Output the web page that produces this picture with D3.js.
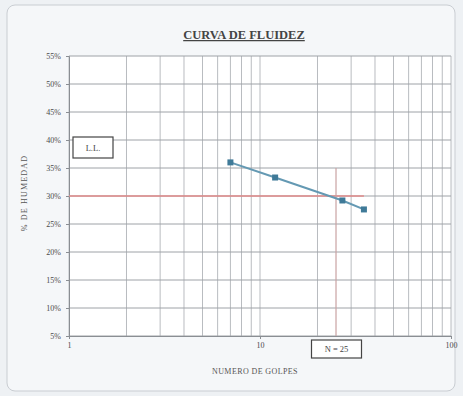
<!DOCTYPE html>
<html>
<head>
<meta charset="utf-8">
<script src="https://cdn.jsdelivr.net/npm/d3@7"></script>
<style>
  html, body { margin: 0; padding: 0; background: #eef1f4; }
  svg { display: block; }
</style>
</head>
<body>
<svg id="chart" width="463" height="396"></svg>
<script>
// Ensayo de límite líquido: número de golpes vs. contenido de humedad
const golpes = [7, 12, 27, 35];
const humedad = [0.360, 0.333, 0.292, 0.276];
const yTickValues = [0.05, 0.10, 0.15, 0.20, 0.25, 0.30, 0.35, 0.40, 0.45, 0.50, 0.55];
const xTickLabels = [1, 10, 100];
const limiteLiquido = 0.30;      // L.L.
const golpesReferencia = 25;     // N = 25
const llLineaGolpes = [1, 35];
const nLineaHumedad = [0.05, 0.35];

const svg = d3.select("#chart");
const plot = { left: 69, right: 451, top: 56, bottom: 336 };

// marco exterior
svg.append("rect")
  .attr("x", 7).attr("y", 5).attr("width", 448).attr("height", 386)
  .attr("rx", 8)
  .attr("fill", "#f5f7f9").attr("stroke", "#c9cdd2").attr("stroke-width", 1);

const x = d3.scaleLog().domain([1, 100]).range([plot.left, plot.right]);
const y = d3.scaleLinear().domain([0.05, 0.55]).range([plot.bottom, plot.top]);

// fondo del área de trazado
svg.append("rect")
  .attr("x", plot.left).attr("y", plot.top)
  .attr("width", plot.right - plot.left).attr("height", plot.bottom - plot.top)
  .attr("fill", "#ffffff");

// líneas de división verticales (escala logarítmica)
const xGrid = x.ticks();
svg.append("g").selectAll("line").data(xGrid).join("line")
  .attr("x1", d => x(d)).attr("x2", d => x(d))
  .attr("y1", plot.top).attr("y2", plot.bottom)
  .attr("stroke", "#b9bcc0").attr("stroke-width", 1);

// líneas de división horizontales
svg.append("g").selectAll("line").data(yTickValues).join("line")
  .attr("x1", plot.left).attr("x2", plot.right)
  .attr("y1", d => y(d)).attr("y2", d => y(d))
  .attr("stroke", "#9ea2a7").attr("stroke-width", 1);

// eje Y
const yAxis = d3.axisLeft(y).tickValues(yTickValues)
  .tickFormat(d3.format(".0%")).tickSize(3).tickPadding(5);
const gy = svg.append("g").attr("transform", `translate(${plot.left},0)`).call(yAxis);
gy.select(".domain").attr("stroke", "#8a8e93");
gy.selectAll(".tick line").attr("stroke", "#8a8e93");
gy.selectAll("text").attr("font-family", "Liberation Serif").attr("font-size", 8).attr("fill", "#4a4a4a");

// eje X
const xAxis = d3.axisBottom(x).tickValues(xTickLabels)
  .tickFormat(d3.format("d")).tickSize(3).tickPadding(3);
const gx = svg.append("g").attr("transform", `translate(0,${plot.bottom})`).call(xAxis);
gx.select(".domain").attr("stroke", "#8a8e93");
gx.selectAll(".tick line").attr("stroke", "#8a8e93");
gx.selectAll("text").attr("font-family", "Liberation Serif").attr("font-size", 8).attr("fill", "#4a4a4a");

// línea del límite líquido
svg.append("line")
  .attr("x1", x(llLineaGolpes[0])).attr("x2", x(llLineaGolpes[1]))
  .attr("y1", y(limiteLiquido)).attr("y2", y(limiteLiquido))
  .attr("stroke", "#e08a8a").attr("stroke-width", 1.4);

// línea N = 25
svg.append("line")
  .attr("x1", x(golpesReferencia)).attr("x2", x(golpesReferencia))
  .attr("y1", y(nLineaHumedad[1])).attr("y2", y(nLineaHumedad[0]))
  .attr("stroke", "#c9a3a3").attr("stroke-width", 1.2);

// curva de fluidez
const pts = golpes.map((g, i) => [g, humedad[i]]);
svg.append("path")
  .datum(pts)
  .attr("d", d3.line().x(d => x(d[0])).y(d => y(d[1])))
  .attr("fill", "none").attr("stroke", "#6499b3").attr("stroke-width", 2);

svg.append("g").selectAll("rect").data(pts).join("rect")
  .attr("x", d => x(d[0]) - 3).attr("y", d => y(d[1]) - 3)
  .attr("width", 6).attr("height", 6)
  .attr("fill", "#3f7a98");

// título
svg.append("text")
  .attr("x", 244).attr("y", 39).attr("text-anchor", "middle")
  .attr("font-family", "Liberation Serif").attr("font-weight", "bold")
  .attr("font-size", 12.5).attr("fill", "#444")
  .attr("text-decoration", "underline")
  .text("CURVA DE FLUIDEZ");

// títulos de los ejes
svg.append("text")
  .attr("transform", "translate(27,193) rotate(-90)")
  .attr("text-anchor", "middle")
  .attr("font-family", "Liberation Serif").attr("font-size", 8)
  .attr("letter-spacing", 1.2)
  .attr("fill", "#555")
  .text("% DE HUMEDAD");

svg.append("text")
  .attr("x", 255).attr("y", 374).attr("text-anchor", "middle")
  .attr("font-family", "Liberation Serif").attr("font-size", 8)
  .attr("letter-spacing", 0.4)
  .attr("fill", "#555")
  .text("NUMERO DE GOLPES");

// etiquetas en recuadro
function etiqueta(cx, cy, w, h, txt) {
  svg.append("rect")
    .attr("x", cx - w / 2).attr("y", cy - h / 2).attr("width", w).attr("height", h)
    .attr("fill", "#ffffff").attr("stroke", "#444").attr("stroke-width", 1.2);
  svg.append("text")
    .attr("x", cx).attr("y", cy + 3).attr("text-anchor", "middle")
    .attr("font-family", "Liberation Serif").attr("font-size", 8.5).attr("fill", "#444")
    .text(txt);
}
etiqueta(93, 147.5, 40, 21, "L.L.");
etiqueta(336.5, 349, 50, 18, "N = 25");
</script>
</body>
</html>
